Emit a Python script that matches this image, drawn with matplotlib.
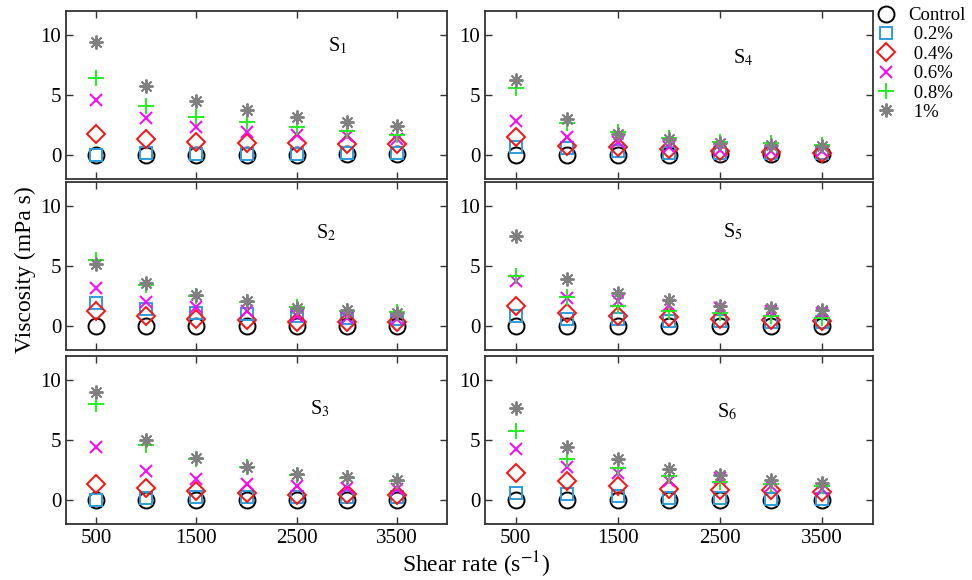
import numpy as np
import matplotlib
matplotlib.use('Agg')
import matplotlib.pyplot as plt

plt.rcParams['font.family'] = 'serif'
plt.rcParams['font.serif'] = ['Liberation Serif', 'DejaVu Serif']
plt.rcParams['mathtext.fontset'] = 'stix'

# Shear rate values (s^-1)
shear = [500, 1000, 1500, 2000, 2500, 3000, 3500]

# Viscosity (mPa s), one dict per sample panel
s1 = {
    'Control': [0.0, 0.0, 0.0, 0.0, 0.0, 0.05, 0.05],
    '0.2%': [0.0, 0.15, 0.1, 0.1, 0.1, 0.2, 0.15],
    '0.4%': [1.76, 1.29, 1.07, 1.0, 0.96, 0.88, 0.88],
    '0.6%': [4.59, 3.08, 2.36, 1.9, 1.7, 1.57, 1.35],
    '0.8%': [6.43, 4.04, 3.16, 2.72, 2.33, 1.98, 1.7],
    '1%': [9.4, 5.77, 4.53, 3.76, 3.13, 2.72, 2.45],
}
s2 = {
    'Control': [0.0, 0.0, 0.0, 0.0, 0.0, 0.0, 0.0],
    '0.2%': [1.9, 1.37, 1.04, 1.0, 0.8, 0.7, 0.6],
    '0.4%': [1.23, 0.82, 0.6, 0.5, 0.33, 0.33, 0.3],
    '0.6%': [3.15, 2.0, 1.56, 1.23, 0.8, 0.7, 0.55],
    '0.8%': [5.53, 3.42, 2.47, 1.97, 1.59, 1.23, 1.15],
    '1%': [5.12, 3.56, 2.6, 2.1, 1.5, 1.29, 1.1],
}
s3 = {
    'Control': [0.0, 0.0, 0.0, 0.0, 0.0, 0.0, 0.0],
    '0.2%': [0.0, 0.2, 0.25, 0.25, 0.25, 0.25, 0.27],
    '0.4%': [1.3, 1.03, 0.76, 0.6, 0.41, 0.49, 0.41],
    '0.6%': [4.4, 2.39, 1.77, 1.36, 1.14, 1.03, 0.95],
    '0.8%': [8.02, 4.54, 3.4, 2.72, 2.04, 1.82, 1.55],
    '1%': [9.02, 4.97, 3.53, 2.77, 2.17, 1.9, 1.63],
}
s4 = {
    'Control': [0.0, 0.0, 0.0, 0.0, 0.05, 0.1, 0.1],
    '0.2%': [0.7, 0.55, 0.3, 0.2, 0.2, 0.2, 0.2],
    '0.4%': [1.46, 0.75, 0.7, 0.47, 0.36, 0.28, 0.2],
    '0.6%': [2.85, 1.52, 1.1, 0.7, 0.4, 0.3, 0.3],
    '0.8%': [5.6, 2.7, 1.93, 1.38, 1.1, 0.97, 0.83],
    '1%': [6.2, 2.96, 1.74, 1.3, 1.02, 0.83, 0.75],
}
s5 = {
    'Control': [0.0, 0.0, 0.0, 0.0, 0.0, 0.0, 0.0],
    '0.2%': [0.82, 0.55, 0.55, 0.41, 0.41, 0.33, 0.33],
    '0.4%': [1.64, 1.04, 0.82, 0.74, 0.55, 0.5, 0.41],
    '0.6%': [3.78, 2.33, 2.05, 1.78, 1.5, 1.23, 1.1],
    '0.8%': [4.16, 2.41, 1.64, 1.23, 1.1, 0.82, 0.7],
    '1%': [7.45, 3.92, 2.74, 2.19, 1.64, 1.5, 1.32],
}
s6 = {
    'Control': [0.0, 0.0, 0.0, 0.0, 0.0, 0.0, 0.0],
    '0.2%': [0.59, 0.46, 0.32, 0.2, 0.2, 0.1, 0.1],
    '0.4%': [2.22, 1.54, 1.19, 0.95, 0.86, 0.81, 0.65],
    '0.6%': [4.24, 2.76, 2.22, 1.54, 1.8, 1.14, 0.92],
    '0.8%': [5.73, 3.43, 2.62, 2.0, 1.49, 1.35, 1.14],
    '1%': [7.62, 4.43, 3.43, 2.54, 2.08, 1.68, 1.4],
}

series = ['Control', '0.2%', '0.4%', '0.6%', '0.8%', '1%']
legend_labels = ['Control', ' 0.2%', ' 0.4%', ' 0.6%', ' 0.8%', ' 1%']
panel_names = ['S$_1$', 'S$_2$', 'S$_3$', 'S$_4$', 'S$_5$', 'S$_6$']
panel_data = [s1, s2, s3, s4, s5, s6]
label_pos = [(2810, 9.1), (2690, 7.7), (2630, 7.6),
             (2630, 8.1), (2530, 7.8), (2475, 7.35)]

styles = {
    'Control': dict(marker='o', ms=11.5, mfc='none', mec='black'),
    '0.2%': dict(marker='s', ms=8.5, mfc='none', mec='#2a9de0'),
    '0.4%': dict(marker='D', ms=9, mfc='none', mec='#ff1010'),
    '0.6%': dict(marker='x', ms=8.5, mec='#ff00ff'),
    '0.8%': dict(marker='+', ms=11, mec='#22ee22'),
    '1%': dict(marker=(8, 2, 0), ms=10, mec='#808080'),
}

fig = plt.figure(figsize=(9.72, 5.8), dpi=100)

lefts = [0.068, 0.499]
widths = [0.392, 0.399]
bottoms = [0.6914, 0.3966, 0.0966]
h = 0.29

axes = []
for i in range(6):
    col, row = divmod(i, 3)
    ax = fig.add_axes([lefts[col], bottoms[row], widths[col], h])
    data = panel_data[i]
    for s in series:
        ax.plot(shear, data[s], linestyle='none', mew=1.4, **styles[s])
    ax.set_xlim(200, 4000)
    ax.set_ylim(-2, 12)
    ax.set_xticks([500, 1500, 2500, 3500])
    ax.set_yticks([0, 5, 10])
    ax.tick_params(direction='in', top=True, right=True, length=5,
                   labelsize=15, color='#333333', width=1)
    if row != 2:
        ax.set_xticklabels([])
    for sp in ax.spines.values():
        sp.set_color('#333333')
        sp.set_linewidth(1.3)
    ax.text(label_pos[i][0], label_pos[i][1], panel_names[i],
            fontsize=14.5, ha='left', va='center')
    axes.append(ax)

handles = axes[0].get_lines()
fig.legend(handles, legend_labels, loc='upper left',
           bbox_to_anchor=(0.900, 0.988), frameon=False, fontsize=13.5,
           handlelength=1.2, handletextpad=0.6, labelspacing=0.12,
           borderpad=0, borderaxespad=0)

fig.text(0.026, 0.535, 'Viscosity (mPa s)', rotation=90,
         ha='center', va='center', fontsize=17)
fig.text(0.49, 0.027, 'Shear rate (s$^{-1}$)', ha='center', va='center',
         fontsize=17)

fig.savefig('out.png', dpi=100)
